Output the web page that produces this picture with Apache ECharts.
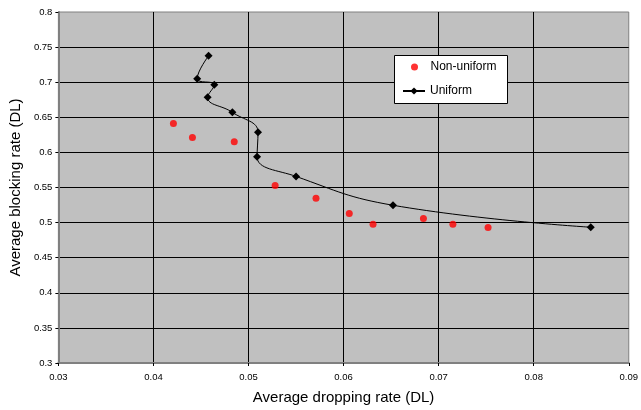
<!DOCTYPE html>
<html>
<head>
<meta charset="utf-8">
<script src="https://cdn.jsdelivr.net/npm/echarts@6/dist/echarts.min.js"></script>
<style>html,body{margin:0;padding:0;background:#fff}#c{width:641px;height:410px}</style>
</head>
<body>
<div id="c"></div>
<script>
// Data
const uniformX = [0.0458, 0.0446, 0.0464, 0.0457, 0.0483, 0.0510, 0.0509, 0.0550, 0.0652, 0.0860];
const uniformY = [0.7376, 0.7049, 0.6964, 0.6784, 0.6571, 0.6287, 0.5938, 0.5658, 0.5247, 0.4934];
const nonUniformX = [0.0421, 0.0441, 0.0485, 0.0528, 0.0571, 0.0606, 0.0631, 0.0684, 0.0715, 0.0752];
const nonUniformY = [0.6410, 0.6212, 0.6151, 0.5530, 0.5346, 0.5129, 0.4977, 0.5058, 0.4977, 0.4930];
const xTicks = [0.03, 0.04, 0.05, 0.06, 0.07, 0.08, 0.09];
const yTicks = [0.3, 0.35, 0.4, 0.45, 0.5, 0.55, 0.6, 0.65, 0.7, 0.75, 0.8];
const seriesNames = ['Non-uniform', 'Uniform'];

const font = '"Liberation Sans", Arial, sans-serif';
const chart = echarts.init(document.getElementById('c'), null, {renderer: 'canvas'});
const zip = (xs, ys) => xs.map((x, i) => [x, ys[i]]);

chart.setOption({
  animation: false,
  backgroundColor: '#ffffff',
  grid: {
    left: 53.5, top: 12, width: 578.5, height: 352.3,
    show: true, backgroundColor: '#C0C0C0', borderColor: '#808080', borderWidth: 1
  },
  xAxis: {
    type: 'value', min: xTicks[0], max: xTicks[xTicks.length - 1], interval: 0.01,
    name: 'Average dropping rate (DL)', nameLocation: 'middle', nameGap: 27,
    nameTextStyle: {fontFamily: font, fontSize: 15, color: '#000'},
    axisLine: {show: true, lineStyle: {color: '#808080', width: 2}},
    axisTick: {show: true, length: 3, lineStyle: {color: '#000'}},
    axisLabel: {fontFamily: font, fontSize: 9.5, color: '#000', margin: 9,
      formatter: v => String(+v.toFixed(2))},
    splitLine: {show: true, showMinLine: false, showMaxLine: false, lineStyle: {color: '#000', width: 1}}
  },
  yAxis: {
    type: 'value', min: yTicks[0], max: yTicks[yTicks.length - 1], interval: 0.05,
    name: 'Average blocking rate (DL)', nameLocation: 'middle', nameGap: 28,
    nameTextStyle: {fontFamily: font, fontSize: 15, color: '#000'},
    axisLine: {show: true, lineStyle: {color: '#808080', width: 2}},
    axisTick: {show: true, length: 3, lineStyle: {color: '#000'}},
    axisLabel: {fontFamily: font, fontSize: 9.5, color: '#000', margin: 6,
      formatter: v => String(+v.toFixed(2))},
    splitLine: {show: true, showMinLine: false, showMaxLine: false, lineStyle: {color: '#000', width: 1}}
  },
  graphic: [{
    type: 'rect', z: 3,
    shape: {x: 394.5, y: 55.5, width: 113, height: 48},
    style: {fill: '#fff', stroke: '#000', lineWidth: 1}
  }],
  legend: [{
    data: [seriesNames[0]], left: 411, top: 61, orient: 'vertical', padding: 0,
    itemWidth: 22, itemHeight: 7, z: 5,
    textStyle: {fontFamily: font, fontSize: 12, color: '#000'}
  }, {
    data: [seriesNames[1]], left: 402, top: 85, orient: 'vertical', padding: 0,
    itemWidth: 22, itemHeight: 9, z: 5,
    textStyle: {fontFamily: font, fontSize: 12, color: '#000'}
  }],
  series: [{
    name: seriesNames[0], type: 'scatter', data: zip(nonUniformX, nonUniformY),
    symbol: 'circle', symbolSize: 7, itemStyle: {color: '#FF0000'}
  }, {
    name: seriesNames[1], type: 'line', data: zip(uniformX, uniformY),
    smooth: 0.45, symbol: 'diamond', symbolSize: 8, showAllSymbol: true,
    lineStyle: {color: '#000', width: 1}, itemStyle: {color: '#000'}
  }]
});
</script>
</body>
</html>
